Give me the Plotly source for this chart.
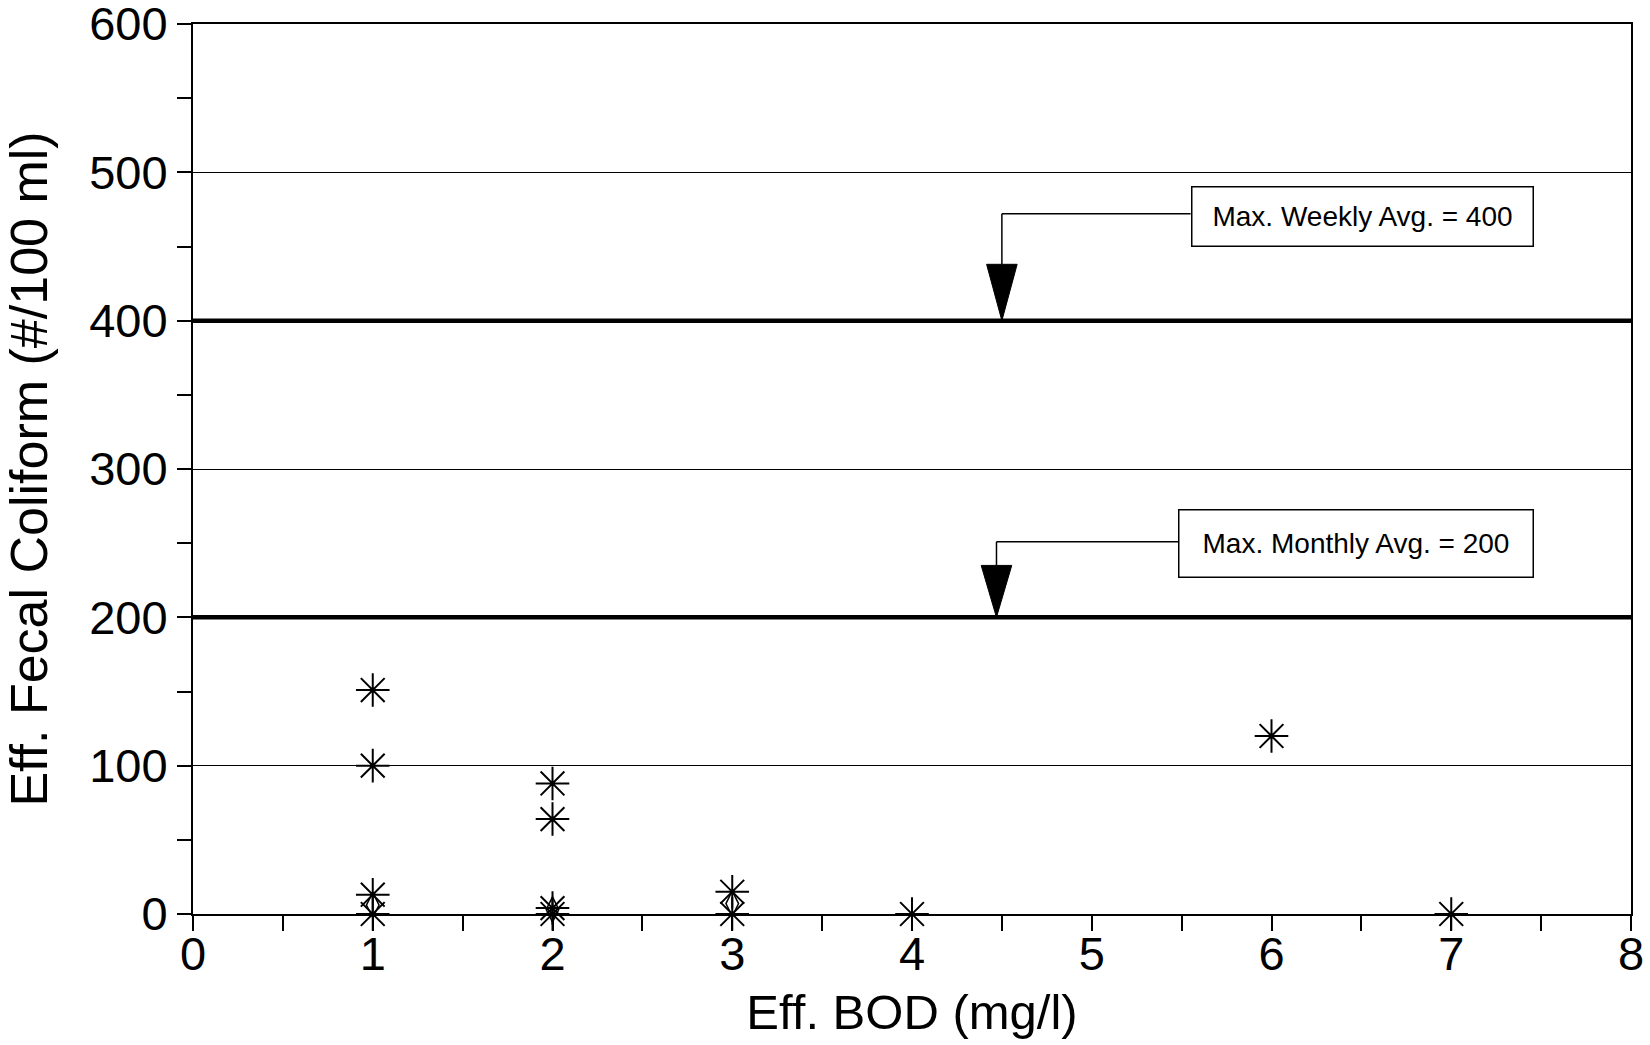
import plotly.graph_objects as go

# Data
bod_ast = [1, 1, 1, 1, 2, 2, 2, 2, 3, 3, 4, 6, 7]
fc_ast = [151, 100, 13, 0, 88, 64, 4, 0, 15, 0, 0, 120, 0]
bod_dia = [1, 2, 3]
fc_dia = [6, 3, 7]

weekly_limit = 400
monthly_limit = 200
weekly_label = "Max. Weekly Avg. = 400"
monthly_label = "Max. Monthly Avg. = 200"

x_ticks = [0, 1, 2, 3, 4, 5, 6, 7, 8]
y_ticks = [0, 100, 200, 300, 400, 500, 600]

FONT = "Liberation Sans, Arial, sans-serif"

fig = go.Figure()
fig.add_trace(go.Scatter(
    x=bod_ast, y=fc_ast, mode="markers",
    marker=dict(symbol="asterisk-open", size=28, color="black",
                line=dict(color="black", width=2)),
    showlegend=False, cliponaxis=False))
fig.add_trace(go.Scatter(
    x=bod_dia, y=fc_dia, mode="markers",
    marker=dict(symbol="diamond-tall-open", size=18, color="black",
                line=dict(color="black", width=1.5)),
    showlegend=False, cliponaxis=False))

shapes = []
for lim in (weekly_limit, monthly_limit):
    shapes.append(dict(type="line", xref="paper", x0=0, x1=1, yref="y",
                       y0=lim, y1=lim, line=dict(color="black", width=4.5)))

def callout(xa, y_conn, y_tri_top, lim, x_box):
    s = []
    s.append(dict(type="line", xref="x", yref="y", x0=xa, x1=x_box,
                  y0=y_conn, y1=y_conn, line=dict(color="black", width=1.5)))
    s.append(dict(type="line", xref="x", yref="y", x0=xa, x1=xa,
                  y0=y_conn, y1=y_tri_top, line=dict(color="black", width=1.5)))
    hw = 0.085
    s.append(dict(type="path", xref="x", yref="y",
                  path=f"M {xa-hw},{y_tri_top} L {xa+hw},{y_tri_top} L {xa},{lim} Z",
                  fillcolor="black", line=dict(color="black", width=1)))
    return s

shapes += callout(4.5, 472, 438, weekly_limit, 5.55)
shapes += callout(4.47, 251, 235, monthly_limit, 5.48)

annotations = [
    dict(x=5.55, y=470, xref="x", yref="y", text=weekly_label, showarrow=False,
         xanchor="left", yanchor="middle", font=dict(family=FONT, size=28, color="black"),
         bordercolor="black", borderwidth=1.5, borderpad=10, width=320, height=38,
         align="center", bgcolor="white"),
    dict(x=5.48, y=250, xref="x", yref="y", text=monthly_label, showarrow=False,
         xanchor="left", yanchor="middle", font=dict(family=FONT, size=28, color="black"),
         bordercolor="black", borderwidth=1.5, borderpad=10, width=333, height=46,
         align="center", bgcolor="white"),
]

fig.update_layout(
    width=1650, height=1045,
    margin=dict(l=193, r=19, t=24, b=131, autoexpand=False),
    paper_bgcolor="white", plot_bgcolor="white",
    font=dict(family=FONT, color="black"),
    shapes=shapes, annotations=annotations,
    xaxis=dict(range=[0, 8], tickvals=x_ticks, ticks="outside", ticklen=15,
               tickwidth=1.5, tickcolor="black", ticklabeloverflow="allow",
               ticklabelstandoff=-17, automargin=False,
               minor=dict(dtick=0.5, ticks="outside", ticklen=15, tickwidth=1.5, tickcolor="black"),
               showline=True, linecolor="black", linewidth=2, mirror=True,
               showgrid=False, zeroline=False,
               tickfont=dict(size=47, family=FONT),
               title=dict(text="Eff. BOD (mg/l)", font=dict(size=49, family=FONT), standoff=15)),
    yaxis=dict(range=[0, 600], tickvals=y_ticks, ticks="outside", ticklen=14,
               tickwidth=1.5, tickcolor="black", ticklabeloverflow="allow",
               automargin=False,
               minor=dict(dtick=50, ticks="outside", ticklen=14, tickwidth=1.5, tickcolor="black"),
               showline=True, linecolor="black", linewidth=2, mirror=True,
               showgrid=True, gridcolor="black", gridwidth=1.2, zeroline=False,
               tickfont=dict(size=47, family=FONT),
               title=dict(text="Eff. Fecal Coliform (#/100 ml)", font=dict(size=52, family=FONT), standoff=27)),
)

fig.write_html("out.html", config={"displayModeBar": False},
               post_script="document.body.style.margin='0';document.body.style.overflow='hidden';")
